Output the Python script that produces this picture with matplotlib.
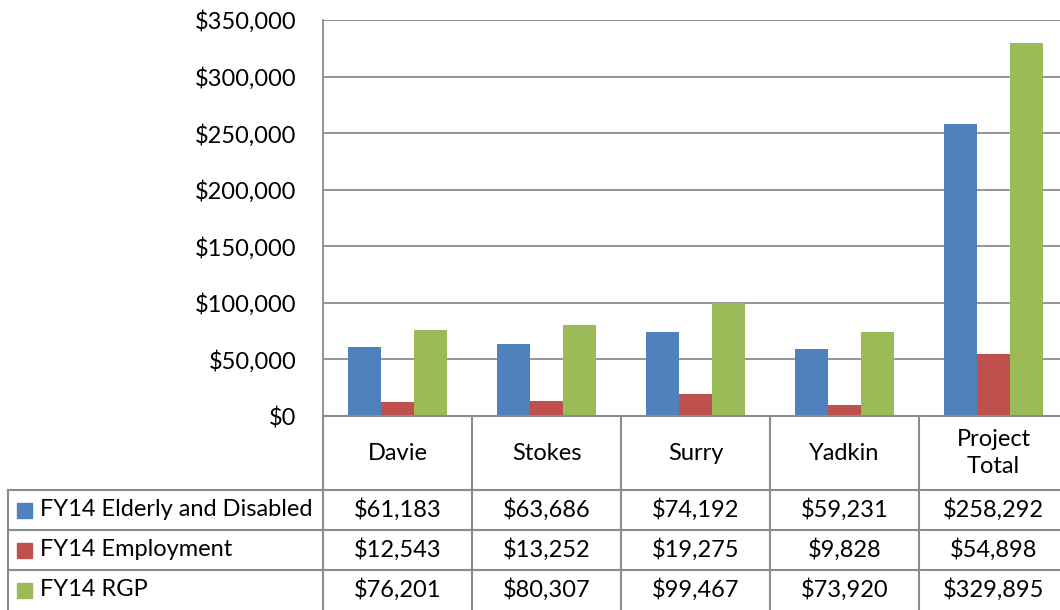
import numpy as np
import matplotlib
matplotlib.use('Agg')
import matplotlib.pyplot as plt
from matplotlib.ticker import FuncFormatter
from matplotlib.transforms import blended_transform_factory

plt.rcParams['font.family'] = ['Lato', 'DejaVu Sans']

# data
categories = ['Davie', 'Stokes', 'Surry', 'Yadkin', 'Project\nTotal']
series_names = ['FY14 Elderly and Disabled', 'FY14 Employment', 'FY14 RGP']
elderly = [61183, 63686, 74192, 59231, 258292]
employment = [12543, 13252, 19275, 9828, 54898]
rgp = [76201, 80307, 99467, 73920, 329895]
colors = ['#4F81BD', '#C0504D', '#9BBB59']

W, H = 1060, 610
FS = 17
fig = plt.figure(figsize=(W / 100, H / 100), dpi=100)

def fx(px):
    return px / W

def fy(py):
    return 1 - py / H

# plot area: x 323..1068 (clipped at right edge), y 20..416
ax = fig.add_axes([fx(323), fy(416), fx(1068 - 323), (416 - 20) / H])
values = [elderly, employment, rgp]
x = np.arange(len(categories))
bw = 0.22
for i, (vals, c) in enumerate(zip(values, colors)):
    ax.bar(x + (i - 1) * bw, vals, bw, color=c, zorder=3)

ax.set_xlim(-0.5, len(categories) - 0.5)
ax.set_ylim(0, 350000)
ax.set_yticks(np.arange(0, 350001, 50000))
ax.yaxis.set_major_formatter(FuncFormatter(lambda v, p: f'${v:,.0f}'))
ax.tick_params(axis='y', length=0, labelsize=FS, pad=19)
ax.set_xticks([])
ax.grid(axis='y', color='#8c8c8c', linewidth=1.3, zorder=0)
for s in ['top', 'right', 'bottom']:
    ax.spines[s].set_visible(False)
ax.spines['left'].set_color('#8c8c8c')
ax.spines['left'].set_linewidth(1.3)

# data table under the plot
line_kw = dict(color='#8c8c8c', linewidth=1.5)
tr = blended_transform_factory(ax.transData, fig.transFigure)
# horizontal lines
fig.add_artist(plt.Line2D([fx(323), 1], [fy(416), fy(416)], **line_kw))
for py in [490, 530, 570]:
    fig.add_artist(plt.Line2D([fx(8), 1], [fy(py), fy(py)], **line_kw))
# vertical lines
fig.add_artist(plt.Line2D([fx(8), fx(8)], [fy(490), 0], **line_kw))
fig.add_artist(plt.Line2D([fx(323), fx(323)], [fy(416), 0], **line_kw))
for b in x[:-1] + 0.5:
    fig.add_artist(plt.Line2D([b, b], [fy(416), 0], transform=tr, **line_kw))

# header row
for xi, cat in zip(x, categories):
    fig.text(xi, fy(453), cat, transform=tr, ha='center', va='center',
             fontsize=FS, linespacing=1.3)

# value rows with legend keys
row_y = [510, 550, 590]
for name, vals, c, py in zip(series_names, values, colors, row_y):
    fig.patches.append(plt.Rectangle((fx(17), fy(py + 7.5)), fx(15), 15 / H,
                                     transform=fig.transFigure, color=c))
    fig.text(fx(40), fy(py), name, ha='left', va='center', fontsize=FS)
    for xi, v in zip(x, vals):
        fig.text(xi, fy(py), f'${v:,.0f}', transform=tr, ha='center',
                 va='center', fontsize=FS)

fig.savefig('out.png', dpi=100)
